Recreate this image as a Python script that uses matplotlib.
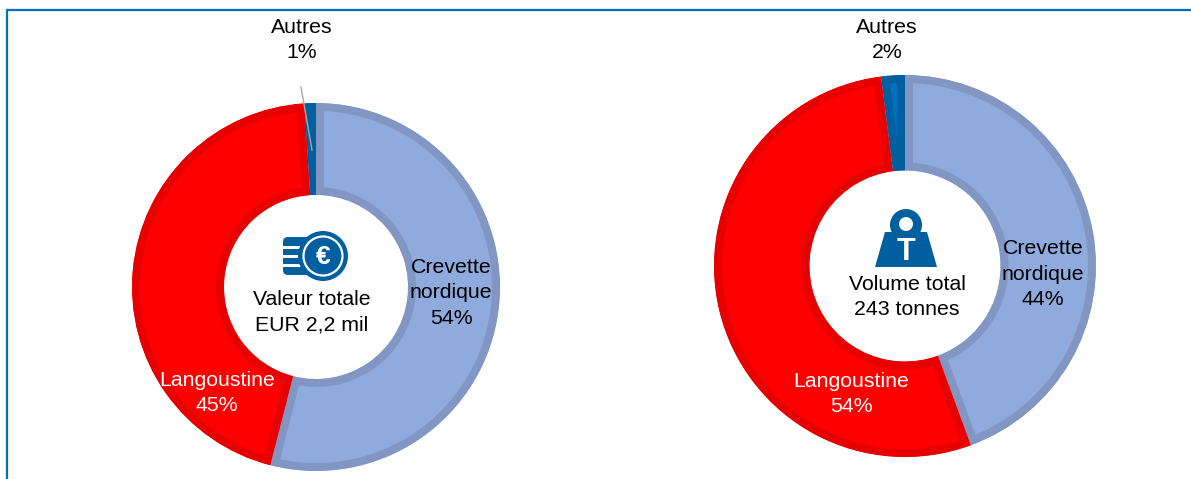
import matplotlib
matplotlib.use('Agg')
import matplotlib.pyplot as plt
from matplotlib.patches import Circle, Polygon, Rectangle, FancyBboxPatch

W, H = 1191, 479

val_values = [54, 45, 1]
vol_values = [44.4, 53.6, 2]
slice_colors = ['#8FAADC', '#FF0000', '#0070C0']
edge_colors = ['#8296C4', '#E60000', '#005F9E']
icon_blue = '#00609F'

val_labels = ['Crevette\nnordique\n54%', 'Langoustine\n45%', 'Autres\n1%']
vol_labels = ['Crevette\nnordique\n44%', 'Langoustine\n54%', 'Autres\n2%']
val_center = 'Valeur totale\nEUR 2,2 mil'
vol_center = 'Volume total\n243 tonnes'

plt.rcParams['font.family'] = ['Liberation Sans', 'DejaVu Sans']


def donut(ax, values, cx, cy, r):
    wedges, _ = ax.pie(values, startangle=90, counterclock=False, colors=slice_colors,
                       center=(cx, H - cy), radius=r, wedgeprops={'width': r * 0.5})
    for w, c in zip(wedges, edge_colors):
        # stroke stays inside the slice
        w.set_edgecolor(c)
        w.set_linewidth(11.5)
        w.set_clip_on(True)
        w.set_clip_path(w)


def label(ax, x, y, s, color='black', size=15.3, **kw):
    ax.text(x, H - y, s, color=color, fontsize=size, ha='center', va='center',
            linespacing=1.45, zorder=6, **kw)


def coin_icon(ax):
    ax.add_patch(FancyBboxPatch((283, H - 275), 40, 38, boxstyle='round,pad=0,rounding_size=5',
                                fc=icon_blue, ec='none', zorder=4))
    for y in [247, 256, 265]:
        ax.add_patch(Rectangle((283, H - y - 1.5), 19, 3, fc='white', ec='none', zorder=4))
    ax.add_patch(Circle((323, H - 256), 25, fc=icon_blue, ec='none', zorder=4))
    ax.add_patch(Circle((323, H - 256), 19.5, fc='none', ec='white', lw=1.6, zorder=5))
    label(ax, 323, 257, '€', color='white', size=19, fontweight='bold')


def weight_icon(ax):
    ax.add_patch(Circle((906, H - 225), 16, fc=icon_blue, ec='none', zorder=4))
    ax.add_patch(Polygon([(885, H - 232), (927, H - 232), (937, H - 267), (875, H - 267)],
                         fc=icon_blue, ec='none', zorder=4))
    ax.add_patch(Circle((906, H - 224), 7, fc='white', ec='none', zorder=5))
    label(ax, 906, 252, 'T', color='white', size=22, fontweight='bold')


fig = plt.figure(figsize=(W / 100, H / 100), dpi=100)
ax = fig.add_axes([0, 0, 1, 1])

donut(ax, val_values, 316, 287, 184)
donut(ax, vol_values, 905, 266, 191)

ax.set_xlim(0, W)
ax.set_ylim(0, H)
ax.set_aspect('equal')
ax.axis('off')

# outer frame, only top and left show
ax.plot([7, 7, W], [0, H - 10, H - 10], color='#0070C0', lw=1.6, solid_joinstyle='miter', clip_on=False)

# leader line for Autres
ax.plot([301, 312], [H - 87, H - 150], color='#A6A6A6', lw=1, zorder=5)

label(ax, 451, 293, val_labels[0])
label(ax, 217, 393, val_labels[1], color='white')
label(ax, 302, 40, val_labels[2])
label(ax, 312, 312, val_center)

label(ax, 1043, 274, vol_labels[0])
label(ax, 851, 394, vol_labels[1], color='white')
label(ax, 887, 40, vol_labels[2])
label(ax, 907, 297, vol_center)

coin_icon(ax)
weight_icon(ax)

fig.savefig('out.png', dpi=100)
